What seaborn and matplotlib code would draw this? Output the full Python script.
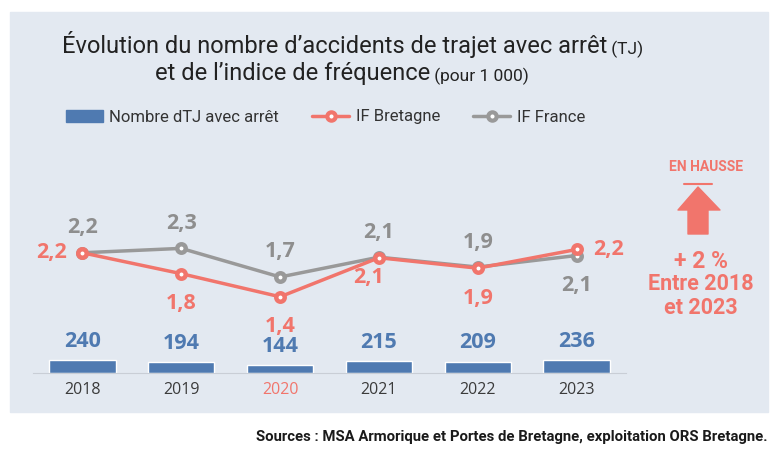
import matplotlib
matplotlib.use("Agg")
import matplotlib.pyplot as plt
import matplotlib.patches as mpatches
import matplotlib.lines as mlines
import pandas as pd
import seaborn as sns

# données
years = ["2018", "2019", "2020", "2021", "2022", "2023"]
nb_tj = [240, 194, 144, 215, 209, 236]
if_bretagne = [2.18, 1.80, 1.38, 2.09, 1.90, 2.24]
if_france = [2.18, 2.26, 1.74, 2.10, 1.92, 2.13]

BLUE = "#4F7AB1"
RED = "#F1756C"
GREY = "#999999"
PANEL = "#E3E9F1"
NARROW = ["Roboto", "DejaVu Sans"]
NUM = ["Open Sans", "DejaVu Sans"]

W, H = 780, 462


def fx(x):
    return x / W


def fy(y):
    return 1 - y / H


df = pd.DataFrame({"annee": years, "tj": nb_tj,
                   "bretagne": if_bretagne, "france": if_france})

sns.set_style("white")
plt.rcParams["font.family"] = NUM

fig = plt.figure(figsize=(7.8, 4.62), dpi=100)
fig.patch.set_facecolor("white")
fig.patches.append(mpatches.Rectangle((fx(10), fy(412)), fx(758), 400 / H,
                                      transform=fig.transFigure,
                                      color=PANEL, zorder=-1))

ax = fig.add_axes([fx(33), fy(372.7), fx(626 - 33), (372.7 - 140) / H])
ax.set_facecolor("none")
sns.barplot(data=df, x="annee", y="tj", color=BLUE, saturation=1,
            width=0.67, ax=ax)
ax.set_ylim(0, 4400)
ax.bar_label(ax.containers[0], padding=6, color=BLUE, fontsize=15.5,
             fontweight="bold")
sns.despine(ax=ax, left=True)
ax.spines["bottom"].set_color("#C9CED6")
ax.set_yticks([])
ax.set_xlabel("")
ax.set_ylabel("")
ax.tick_params(axis="x", length=0, pad=7, labelsize=11.5, labelcolor="#3b3b3b")
for lab in ax.get_xticklabels():
    if lab.get_text() == "2020":
        lab.set_color(RED)

# indices de fréquence
ax2 = ax.twinx()
line_kws = dict(markers="o", markersize=6.1, linewidth=2.5,
                markerfacecolor="white", markeredgewidth=3.2, errorbar=None)
sns.pointplot(data=df, x="annee", y="france", color=GREY, ax=ax2, **line_kws)
sns.pointplot(data=df, x="annee", y="bretagne", color=RED, ax=ax2, **line_kws)
ax2.set_ylim(0, 4.23)
ax2.set_xlim(-0.5, 5.5)
ax.set_xlim(-0.5, 5.5)
for s in ax2.spines.values():
    s.set_visible(False)
ax2.set_yticks([])
ax2.set_ylabel("")

OFFSETS = {"above": (0, 25), "below": (0, -30), "left": (-31, 0),
           "right": (32, 0), "below_left": (-10, -20)}
fr_pos = ["above", "above", "above", "above", "above", "below"]
br_pos = ["left", "below", "below", "below_left", "below", "right"]


def label_points(values, positions, color):
    for i, (v, p) in enumerate(zip(values, positions)):
        ax2.annotate(f"{v:.1f}".replace(".", ","), xy=(i, v),
                     xytext=OFFSETS[p], textcoords="offset pixels",
                     ha="center", va="center", color=color,
                     fontsize=15.5, fontweight="bold")


label_points(if_france, fr_pos, "#8E8E8E")
label_points(if_bretagne, br_pos, RED)

# légende
handles = [
    mpatches.Patch(color=BLUE),
    mlines.Line2D([], [], color=RED, lw=2.5, marker="o", ms=6, mew=3, mfc="white"),
    mlines.Line2D([], [], color=GREY, lw=2.5, marker="o", ms=6, mew=3, mfc="white"),
]
fig.legend(handles, ["Nombre dTJ avec arrêt", "IF Bretagne", "IF France"],
           loc="center left", bbox_to_anchor=(fx(66), fy(117)), ncol=3,
           frameon=False, prop={"family": NARROW, "size": 12},
           handlelength=2.2, handletextpad=0.4, columnspacing=2.0,
           borderpad=0, borderaxespad=0, labelcolor="#333333")

# titre
t1 = fig.text(fx(62), fy(53), "Évolution du nombre d’accidents de trajet avec arrêt",
              fontsize=17, family=NARROW, va="baseline", color="#222222")
ax.annotate(" (TJ)", xy=(1, 0), xycoords=t1, ha="left", va="bottom",
            fontsize=12.5, family=NARROW, color="#222222", annotation_clip=False)
t2 = fig.text(fx(155), fy(80), "et de l’indice de fréquence",
              fontsize=17, family=NARROW, va="baseline", color="#222222")
ax.annotate(" (pour 1 000)", xy=(1, 0), xycoords=t2, ha="left", va="bottom",
            fontsize=12.5, family=NARROW, color="#222222", annotation_clip=False)

# encadré "en hausse"
fig.text(fx(706), fy(167), "EN HAUSSE", ha="center", va="center",
         family=NARROW, weight="bold", size=10, color=RED)
fig.add_artist(mlines.Line2D([fx(684), fx(712)], [fy(184), fy(184)],
                             transform=fig.transFigure, color=RED, lw=1.5))
arrow_px = [(688, 234), (688, 210), (678, 210), (698, 187), (720, 210),
            (708, 210), (708, 234)]
fig.add_artist(mpatches.Polygon([(fx(x), fy(y)) for x, y in arrow_px],
                                closed=True, transform=fig.transFigure,
                                color=RED, joinstyle="round", lw=1))
fig.text(fx(701), fy(261), "+ 2 %", ha="center", va="center",
         family=NARROW, weight="bold", size=16.5, color=RED)
fig.text(fx(701), fy(284), "Entre 2018", ha="center", va="center",
         family=NARROW, weight="bold", size=15.5, color=RED)
fig.text(fx(701), fy(308), "et 2023", ha="center", va="center",
         family=NARROW, weight="bold", size=15.5, color=RED)

fig.text(fx(767), fy(437),
         "Sources : MSA Armorique et Portes de Bretagne, exploitation ORS Bretagne.",
         ha="right", va="center", family=NARROW, weight="bold", size=10.7,
         color="#1a1a1a")

fig.savefig("out.png", dpi=100, facecolor="white")
